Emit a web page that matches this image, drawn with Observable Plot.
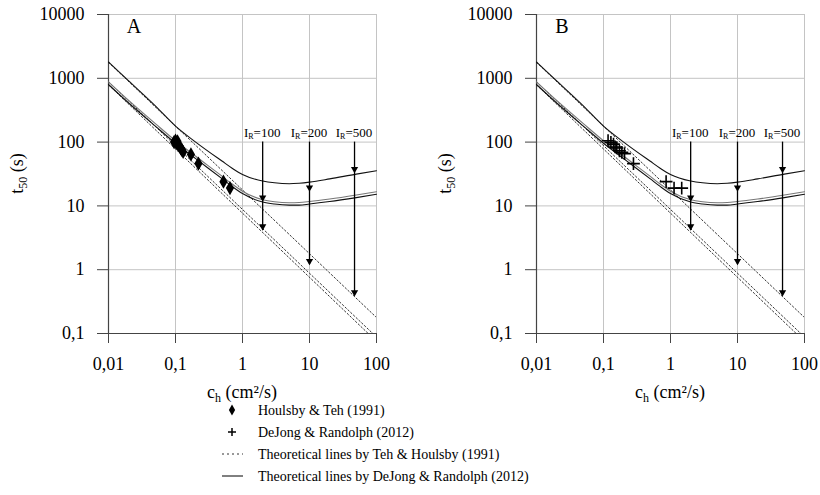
<!DOCTYPE html>
<html><head><meta charset="utf-8">
<script src="https://cdn.jsdelivr.net/npm/d3@7"></script>
<script src="https://cdn.jsdelivr.net/npm/@observablehq/plot@0.6"></script>
<style>
body{margin:0;background:#fff;font-family:"Liberation Serif","Times New Roman",serif;}
#wrap{position:relative;width:820px;height:495px;overflow:hidden;}
#a{position:absolute;left:0;top:0;}
#b{position:absolute;left:410px;top:0;}
#legend{position:absolute;left:0;top:0;}
svg, svg text, svg tspan{font-family:"Liberation Serif","Times New Roman",serif !important;}
</style></head><body>
<div id="wrap"><div id="a"></div><div id="b"></div><svg id="legend" width="820" height="495" style="pointer-events:none"></svg></div>
<script>
// axis ticks
const xTicks = [0.01, 0.1, 1, 10, 100];
const xTickLabels = ["0,01", "0,1", "1", "10", "100"];
const yTicks = [0.1, 1, 10, 100, 1000, 10000];
const yTickLabels = ["0,1", "1", "10", "100", "1000", "10000"];

// DeJong & Randolph (2012) theoretical curves
const chGrid = [0.01, 0.02, 0.05, 0.1, 0.2, 0.5, 0.7, 1, 2, 3, 5, 7, 10, 20, 50, 100];
const djTop = [1800, 910, 370, 178, 100, 50, 39, 31, 24.5, 23, 22.3, 22.7, 23.6, 26.5, 31.5, 35.5];
const djMid = [880, 450, 195, 105, 60, 29, 22, 17, 12.5, 11.6, 11.2, 11.3, 11.7, 12.8, 14.8, 16.7];
const djLow = [800, 410, 178, 96, 55, 26.5, 20.2, 15.6, 11.5, 10.7, 10.3, 10.3, 10.7, 11.7, 13.5, 15.2];

// Teh & Houlsby (1991) theoretical lines (straight in log-log)
const thCh = [0.01, 100];
const thTop = [1780, 0.178];
const thMid = [880, 0.088];
const thLow = [790, 0.075];

// I_R arrows
const irLabels = ["100", "200", "500"];
const irCh = [2, 10, 47];
const irStart = [100, 100, 100];
const irHead1 = [11.9, 17.1, 33.3];
const irHead2 = [4.2, 1.2, 0.39];

// Houlsby & Teh (1991) data (panel A)
const htCh = [0.095, 0.1, 0.103, 0.107, 0.11, 0.115, 0.12, 0.125, 0.13, 0.17, 0.22, 0.52, 0.65];
const htT = [100, 106, 96, 103, 90, 86, 80, 75, 70, 64, 46, 24, 19];

// DeJong & Randolph (2012) data (panel B)
const drCh = [0.117, 0.129, 0.141, 0.149, 0.158, 0.173, 0.188, 0.206, 0.28, 0.86, 1.13, 1.47];
const drT = [105, 99, 93, 84, 81, 73, 69, 66, 46, 24, 19, 19];

const legendItems = ["Houlsby & Teh (1991)", "DeJong & Randolph (2012)",
  "Theoretical lines by Teh & Houlsby (1991)", "Theoretical lines by DeJong & Randolph (2012)"];

const FONT = "'Liberation Serif', 'Times New Roman', serif";
const curve = (ys) => chGrid.map((c, i) => ({x: c, y: ys[i]}));
const tline = (ys) => thCh.map((c, i) => ({x: c, y: ys[i]}));
const arrows = irCh.map((c, i) => ({x: c, y1: irStart[i], y2: irHead2[i], h1: irHead1[i], h2: irHead2[i], lab: irLabels[i]}));
const heads = arrows.flatMap(a => [{x: a.x, y: a.h1}, {x: a.x, y: a.h2}]);

function panel(el, letter, ml, mr, pts, sym) {
  const dash = {x: "x", y: "y", stroke: "#333", strokeWidth: 1, strokeDasharray: "1.6,2.2", clip: true};
  const marks = [
    Plot.gridX(xTicks, {stroke: "#c4c4c4", strokeOpacity: 1}),
    Plot.gridY(yTicks, {stroke: "#c4c4c4", strokeOpacity: 1}),
    Plot.axisX({ticks: xTicks, tickFormat: d => xTickLabels[xTicks.indexOf(d)], tickSize: 10, tickPadding: 14, label: null, stroke: "#444", fontSize: 18, fontFamily: FONT}),
    Plot.axisY({ticks: yTicks, tickFormat: d => yTickLabels[yTicks.indexOf(d)], tickSize: 11, tickPadding: 13, label: null, stroke: "#444", fontSize: 18, fontFamily: FONT}),
    Plot.ruleX([0.01], {stroke: "#444", strokeWidth: 1.2}),
    Plot.ruleY([0.1], {stroke: "#444", strokeWidth: 1.2}),
    Plot.line(tline(thTop), dash),
    Plot.line(tline(thMid), dash),
    Plot.line(tline(thLow), dash),
    Plot.line(curve(djTop), {x: "x", y: "y", stroke: "#111", strokeWidth: 1.1, curve: "monotone-x"}),
    Plot.line(curve(djMid), {x: "x", y: "y", stroke: "#777", strokeWidth: 1.1, curve: "monotone-x"}),
    Plot.line(curve(djLow), {x: "x", y: "y", stroke: "#111", strokeWidth: 1.1, curve: "monotone-x"}),
    Plot.ruleX(arrows, {x: "x", y1: "y1", y2: "y2", stroke: "#000", strokeWidth: 1.3}),
    Plot.dot(heads, {x: "x", y: "y", symbol: "triangle", rotate: 180, r: 2.7, fill: "#000", stroke: "none", dy: -3.5}),
    sym === "diamond"
      ? Plot.dot(pts, {x: "x", y: "y", symbol: "diamond", r: 4.3, fill: "#000", stroke: "none"})
      : Plot.dot(pts, {x: "x", y: "y", symbol: "plus", r: 4.2, stroke: "#000", strokeWidth: 1.6, fill: "none"})
  ];
  const p = Plot.plot({
    width: 410, height: 420, marginLeft: ml, marginRight: mr, marginTop: 14, marginBottom: 87,
    x: {type: "log", domain: [0.01, 100]},
    y: {type: "log", domain: [0.1, 10000]},
    style: {fontFamily: FONT, fontSize: "18px", color: "#000", background: "#fff"},
    marks
  });
  el.appendChild(p);
  const sx = p.scale("x"), sy = p.scale("y");
  const s = d3.select(p);
  const x0 = sx.apply(0.01), x1 = sx.apply(100), yTop = sy.apply(10000), yBot = sy.apply(0.1);
  // panel letter
  s.append("text").attr("x", x0 + 26).attr("y", yTop + 19).attr("font-size", 20).text(letter);
  // IR labels
  arrows.forEach(a => {
    const t = s.append("text").attr("x", sx.apply(a.x)).attr("y", sy.apply(a.y1) - 5)
      .attr("text-anchor", "middle").attr("font-size", 13);
    t.append("tspan").text("I");
    t.append("tspan").attr("font-size", 8).attr("dy", 2).text("R");
    t.append("tspan").attr("dy", -2).text("=" + a.lab);
  });
  // y title
  const yt = s.append("text").attr("transform", `translate(${ml - 85},${(yTop + yBot) / 2}) rotate(-90)`)
    .attr("text-anchor", "middle").attr("font-size", 18);
  yt.append("tspan").text("t");
  yt.append("tspan").attr("font-size", 12).attr("dy", 4).text("50");
  yt.append("tspan").attr("dy", -4).text(" (s)");
  // x title
  const xt = s.append("text").attr("x", (x0 + x1) / 2).attr("y", yBot + 65)
    .attr("text-anchor", "middle").attr("font-size", 18);
  xt.append("tspan").text("c");
  xt.append("tspan").attr("font-size", 12).attr("dy", 4).text("h");
  xt.append("tspan").attr("dy", -4).text(" (cm²/s)");
}

panel(document.getElementById("a"), "A", 108, 34, htCh.map((c, i) => ({x: c, y: htT[i]})), "diamond");
panel(document.getElementById("b"), "B", 126, 16, drCh.map((c, i) => ({x: c, y: drT[i]})), "plus");

// legend
const lg = d3.select("#legend");
const rowY = [410, 432, 454, 476];
const symX = 232, textX = 258;
legendItems.forEach((txt, i) => {
  const y = rowY[i];
  if (i === 0) lg.append("path").attr("d", d3.symbol(d3.symbolDiamond, 34)()).attr("transform", `translate(${symX},${y})`).attr("fill", "#000");
  if (i === 1) lg.append("path").attr("d", `M${symX - 4},${y}H${symX + 4}M${symX},${y - 4}V${y + 4}`).attr("stroke", "#000").attr("stroke-width", 1.5);
  if (i === 2) lg.append("line").attr("x1", symX - 10).attr("x2", symX + 11).attr("y1", y).attr("y2", y).attr("stroke", "#333").attr("stroke-dasharray", "2,3");
  if (i === 3) lg.append("line").attr("x1", symX - 10).attr("x2", symX + 11).attr("y1", y).attr("y2", y).attr("stroke", "#000");
  lg.append("text").attr("x", textX).attr("y", y + 5).attr("font-size", 14).text(txt);
});
</script>
</body></html>
